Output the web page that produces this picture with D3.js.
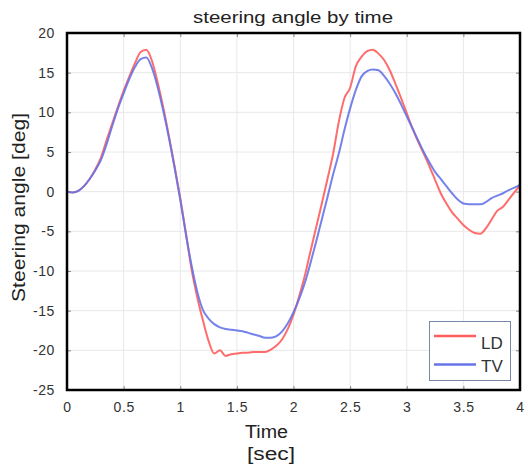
<!DOCTYPE html>
<html>
<head>
<meta charset="utf-8">
<script src="https://cdn.jsdelivr.net/npm/d3@7"></script>
<style>
  body { margin: 0; background: #fff; }
  svg { font-family: "Liberation Sans", Arial, sans-serif; }
</style>
</head>
<body>
<svg id="chart" width="528" height="466"></svg>
<script>
// time [sec], sampled every 0.05 s
var time = d3.range(0, 81).map(function(i) { return +(i * 0.05).toFixed(2); });

// steering angle [deg] - LD
var ldAngle = [
  0, -0.1, 0.1, 0.7, 1.6, 2.8, 4.3, 6.5, 8.6, 10.7,
  12.7, 14.5, 16.2, 17.6, 17.9, 16.5, 13.8, 10.6, 7.0, 3.2,
  -0.8, -5.2, -9.8, -13.3, -16.2, -18.8, -20.4, -20.0, -20.7, -20.5,
  -20.4, -20.3, -20.3, -20.2, -20.2, -20.2, -19.9, -19.4, -18.6, -17.3,
  -15.5, -13.2, -10.6, -7.5, -4.5, -1.5, 1.6, 4.8, 8.8, 11.8,
  13.1, 15.8, 17.0, 17.7, 17.9, 17.4, 16.6, 15.3, 13.6, 11.8,
  9.9, 8.0, 6.3, 4.8, 3.2, 1.5, -0.2, -1.5, -2.6, -3.4,
  -4.2, -4.8, -5.2, -5.3, -4.6, -3.5, -2.4, -1.9, -1.0, -0.1,
  0.8
];

// steering angle [deg] - TV
var tvAngle = [
  0, -0.1, 0.1, 0.7, 1.6, 2.7, 4.0, 6.0, 8.3, 10.5,
  12.4, 14.2, 15.7, 16.7, 16.9, 15.6, 13.2, 10.2, 6.8, 3.0,
  -1.0, -5.4, -9.3, -12.6, -14.9, -16.0, -16.7, -17.1, -17.3, -17.4,
  -17.5, -17.6, -17.8, -18.0, -18.2, -18.4, -18.4, -18.2, -17.6, -16.6,
  -15.2, -13.5, -11.5, -9.0, -6.3, -3.5, -0.7, 2.2, 4.8, 7.8,
  10.5, 12.8, 14.5, 15.2, 15.4, 15.3, 14.6, 13.6, 12.4, 11.0,
  9.5, 8.0, 6.5, 5.0, 3.7, 2.5, 1.6, 0.7, -0.2, -1.0,
  -1.5, -1.6, -1.6, -1.6, -1.3, -0.8, -0.5, -0.2, 0.2, 0.5,
  0.9
];

var xTicks = [0, 0.5, 1, 1.5, 2, 2.5, 3, 3.5, 4];
var yTicks = [-25, -20, -15, -10, -5, 0, 5, 10, 15, 20];
var seriesNames = ["LD", "TV"];
var seriesColors = ["#ff5c5c", "#6674e8"];

var svg = d3.select("#chart");
var pLeft = 67, pRight = 520, pTop = 33, pBottom = 390;

var x = d3.scaleLinear().domain([0, 4]).range([pLeft, pRight]);
var y = d3.scaleLinear().domain([-25, 20]).range([pBottom, pTop]);

// grid
var grid = svg.append("g");
grid.selectAll(".gx").data(xTicks).enter().append("line")
  .attr("x1", function(d) { return x(d); }).attr("x2", function(d) { return x(d); })
  .attr("y1", pTop).attr("y2", pBottom)
  .attr("stroke", "#e8e8e8").attr("stroke-width", 1);
grid.selectAll(".gy").data(yTicks).enter().append("line")
  .attr("y1", function(d) { return y(d); }).attr("y2", function(d) { return y(d); })
  .attr("x1", pLeft).attr("x2", pRight)
  .attr("stroke", "#e8e8e8").attr("stroke-width", 1);

// axes, ticks pointing inwards
svg.append("g").attr("transform", "translate(0," + pBottom + ")")
  .call(d3.axisBottom(x).tickValues(xTicks).tickSize(-4).tickPadding(12)
    .tickFormat(function(d) { return d; }));
svg.append("g").attr("transform", "translate(" + pLeft + ",0)")
  .call(d3.axisLeft(y).tickValues(yTicks).tickSize(-4).tickPadding(12)
    .tickFormat(function(d) { return d; }));
svg.append("g").attr("transform", "translate(" + pRight + ",0)")
  .call(d3.axisRight(y).tickValues(yTicks).tickSize(-4).tickFormat(""));
svg.append("g").attr("transform", "translate(0," + pTop + ")")
  .call(d3.axisTop(x).tickValues(xTicks).tickSize(-4).tickFormat(""));

svg.selectAll(".domain").remove();
svg.selectAll(".tick line").attr("stroke", "#888");
svg.selectAll(".tick text").attr("fill", "#333").style("font-size", "14px")
  .style("letter-spacing", "0.6px")
  .style("font-family", "'Liberation Sans', Arial, sans-serif");

// lines
var line = d3.line()
  .x(function(d, i) { return x(time[i]); })
  .y(function(d) { return y(d); })
  .curve(d3.curveMonotoneX);

[ldAngle, tvAngle].forEach(function(vals, k) {
  svg.append("path").datum(vals)
    .attr("d", line)
    .attr("fill", "none")
    .attr("stroke", seriesColors[k])
    .attr("stroke-opacity", 0.9)
    .attr("stroke-width", 2);
});

// frame
svg.append("rect")
  .attr("x", pLeft).attr("y", pTop)
  .attr("width", pRight - pLeft).attr("height", pBottom - pTop)
  .attr("fill", "none").attr("stroke", "#000").attr("stroke-width", 2.5);

// legend
var lg = svg.append("g");
lg.append("rect").attr("x", 429.5).attr("y", 321.5).attr("width", 81).attr("height", 59)
  .attr("fill", "#fff").attr("stroke", "#7888a8").attr("stroke-width", 1);
var legLineY = [336, 364.5], legTextY = [348.5, 371.5];
seriesNames.forEach(function(name, k) {
  lg.append("line").attr("x1", 434).attr("x2", 476)
    .attr("y1", legLineY[k]).attr("y2", legLineY[k])
    .attr("stroke", seriesColors[k]).attr("stroke-width", 2.5);
  lg.append("text").attr("x", 481).attr("y", legTextY[k]).text(name)
    .attr("fill", "#333").style("font-size", "17px");
});

// titles
svg.append("text").attr("x", 293).attr("y", 23).attr("text-anchor", "middle")
  .attr("textLength", 200).attr("lengthAdjust", "spacingAndGlyphs")
  .attr("fill", "#222").style("font-size", "16px").text("steering angle by time");
svg.append("text").attr("x", 266.5).attr("y", 438).attr("text-anchor", "middle")
  .attr("textLength", 43).attr("lengthAdjust", "spacingAndGlyphs")
  .attr("fill", "#222").style("font-size", "18px").text("Time");
svg.append("text").attr("x", 271).attr("y", 460).attr("text-anchor", "middle")
  .attr("textLength", 48).attr("lengthAdjust", "spacingAndGlyphs")
  .attr("fill", "#222").style("font-size", "18px").text("[sec]");
svg.append("text").attr("transform", "translate(25,207.5) rotate(-90)")
  .attr("text-anchor", "middle")
  .attr("textLength", 189).attr("lengthAdjust", "spacingAndGlyphs")
  .attr("fill", "#222").style("font-size", "19px")
  .text("Steering angle [deg]");
</script>
</body>
</html>
